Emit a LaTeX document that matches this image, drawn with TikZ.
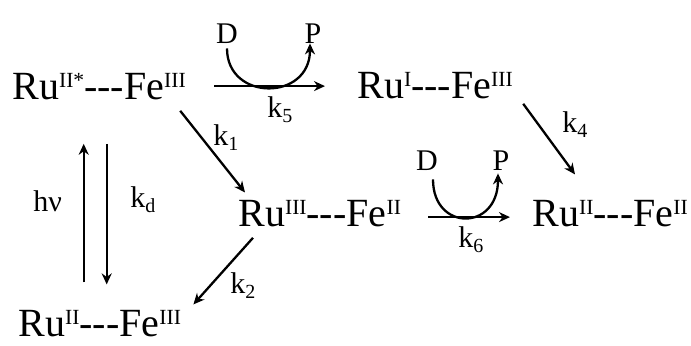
\documentclass[tikz,border=0pt]{standalone}
\usepackage{fontspec}
\setmainfont{Liberation Serif}
\usetikzlibrary{arrows.meta, calc}
\newcommand{\ox}[1]{\raisebox{5.6pt}{\fontsize{10.8}{11}\selectfont #1}}
\newcommand{\rk}[1]{k\raisebox{-2.5pt}{\fontsize{10}{10}\selectfont #1}}
\newcommand{\bnd}{-\kern0pt-\kern0pt-}
\tikzset{
  species/.style={inner sep=0pt, anchor=base west, font=\fontsize{20}{24}\selectfont},
  lbl/.style={inner sep=0pt, anchor=base west, font=\fontsize{15}{18}\selectfont},
  donor/.style={inner sep=0pt, anchor=base, font=\fontsize{15}{18}\selectfont},
  flow/.style={-{Stealth[length=5.5pt, width=5pt]}, line width=1.15pt},
}

\begin{document}
\begin{tikzpicture}[x=0.5pt, y=-0.5pt]
  \useasboundingbox (0,0) rectangle (691,345);
  % species
  \node[species] (rs) at (12,99)   {Ru\ox{II*}\bnd Fe\ox{III}};
  \node[species] (ri) at (357,98)  {Ru\ox{I}\bnd Fe\ox{III}};
  \node[species] (rm) at (238,226) {Ru\ox{III}\bnd Fe\ox{II}};
  \node[species] (rf) at (532,226) {Ru\ox{II}\bnd Fe\ox{II}};
  \node[species] (rb) at (18,336)  {Ru\ox{II}\bnd Fe\ox{III}};

  % rate labels
  \node[lbl] (k5) at (267,117) {\rk{5}};
  \node[lbl] (k1) at (213,145) {\rk{1}};
  \node[lbl] (kd) at (130,207) {\rk{d}};
  \node[lbl] (hv) at (33,211)  {hν};
  \node[lbl] (k2) at (230,293) {\rk{2}};
  \node[lbl] (k4) at (562,132) {\rk{4}};
  \node[lbl] (k6) at (458,247) {\rk{6}};

  % donor / product
  \node[donor] (d5) at (227,43)  {D};
  \node[donor] (p5) at (313,43)  {P};
  \node[donor] (d6) at (427,170) {D};
  \node[donor] (p6) at (501,170) {P};

  \draw[flow, shorten <=14pt, shorten >=16pt] (rs.east) -- (rs.east -| ri.west);
  \draw[flow, shorten <=13.5pt, shorten >=11pt] ([yshift=-2pt]rm.east) -- ([yshift=-2pt]rm.east -| rf.west);
  \draw[flow] ([shift={(-3pt,-5.5pt)}]rs.south east) -- ([shift={(3.5pt,3.5pt)}]rm.north west);
  \draw[flow] ([shift={(7.5pt,-5.5pt)}]rm.south west) -- ([shift={(6pt,2.5pt)}]rb.north east);
  \draw[flow] ([shift={(5pt,-2.5pt)}]ri.south east) -- ([shift={(21.5pt,12.5pt)}]rf.north west);
  \draw[flow, shorten <=13.5pt, shorten >=22pt] ([xshift=-8pt]rb.north) -- ([xshift=-8pt]rb.north |- rs.south);
  \draw[flow, shorten <=22pt, shorten >=12.5pt] ([xshift=3.5pt]rb.north |- rs.south) -- ([xshift=3.5pt]rb.north);

  \draw[flow, shorten <=2.5pt] (d5.south) .. controls +(0,-29pt) and +(0,-29pt) .. ([xshift=-1.5pt]p5.south);
  \draw[flow, shorten <=4.5pt, shorten >=1.5pt] ([xshift=3pt]d6.south) .. controls +(0,-30.5pt) and +(0,-30.5pt) .. ([xshift=-1.5pt]p6.south);
\end{tikzpicture}
\end{document}
